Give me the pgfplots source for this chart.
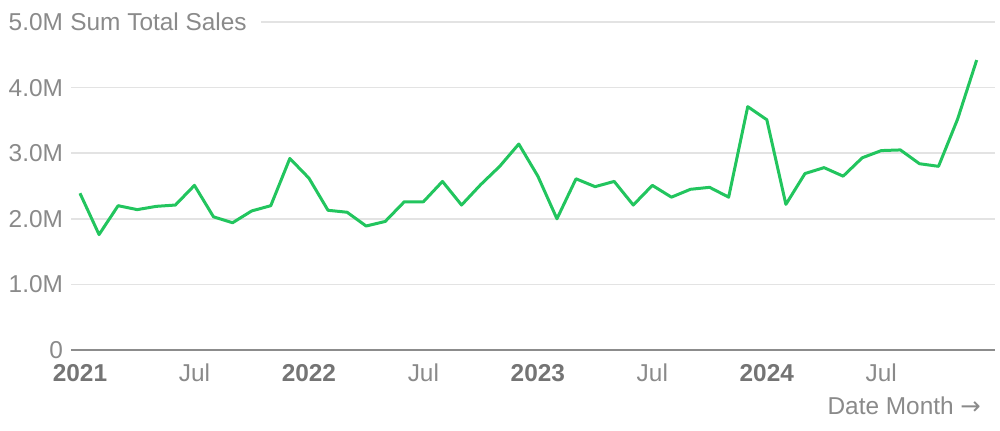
\documentclass[border=0pt]{standalone}
\usepackage{pgfplots}
\pgfplotsset{compat=1.18}
\usepackage{fontspec}
\setmainfont{Liberation Sans}
\newfontfamily\arrowfont{DejaVu Sans}
\definecolor{txtgray}{HTML}{8A8A8A}
\definecolor{yeargray}{HTML}{747474}
\definecolor{gridgray}{HTML}{E3E3E3}
\definecolor{axisgray}{HTML}{8C8C8C}
\definecolor{linegreen}{HTML}{22C55E}
\pgfplotstableread{
m v
0 2.39
1 1.76
2 2.20
3 2.14
4 2.19
5 2.21
6 2.51
7 2.03
8 1.94
9 2.12
10 2.20
11 2.92
12 2.62
13 2.13
14 2.10
15 1.89
16 1.96
17 2.26
18 2.26
19 2.57
20 2.21
21 2.52
22 2.80
23 3.14
24 2.65
25 2.00
26 2.61
27 2.49
28 2.57
29 2.21
30 2.51
31 2.33
32 2.45
33 2.48
34 2.33
35 3.71
36 3.51
37 2.22
38 2.69
39 2.78
40 2.65
41 2.93
42 3.04
43 3.05
44 2.84
45 2.80
46 3.52
47 4.42
}\sales
\begin{document}
\begin{tikzpicture}
\useasboundingbox (-35.5pt,-40pt) rectangle (464.5pt,175pt);
\begin{axis}[
  scale only axis,
  width=462pt, height=164pt,
  xmin=-0.47, xmax=47.96,
  ymin=0, ymax=5,
  axis line style={draw=none},
  major tick length=0pt,
  ymajorgrids,
  grid style={gridgray, line width=0.8pt},
  ytick={0,1,2,3,4,5},
  yticklabels={0,1.0M,2.0M,3.0M,4.0M,5.0M},
  xtick={0,6,12,18,24,30,36,42},
  xticklabels={\textbf{\color{yeargray}2021},Jul,\textbf{\color{yeargray}2022},Jul,\textbf{\color{yeargray}2023},Jul,\textbf{\color{yeargray}2024},Jul},
  tick label style={font=\fontsize{12.2}{14}\selectfont, text=txtgray},
  yticklabel style={anchor=east, xshift=-0.5pt},
  xticklabel style={anchor=base, yshift=-15.5pt},
  clip=false,
]
\draw[axisgray, line width=1pt] (rel axis cs:0,0) -- (rel axis cs:1,0);
\node[anchor=west, fill=white, inner xsep=0pt, inner ysep=2pt, text=txtgray,
      font=\fontsize{12.2}{14}\selectfont, xshift=-0.5pt]
  at (axis cs:-0.47,5) {Sum Total Sales\kern7pt};
\addplot[linegreen, line width=1.5pt, line join=round, mark=none] table[x=m, y=v] {\sales};
\node[anchor=base east, text=txtgray, font=\fontsize{12.2}{14}\selectfont,
      xshift=-3.5pt, yshift=-32pt] at (rel axis cs:1,0) {Date Month {\arrowfont →}};
\end{axis}
\end{tikzpicture}
\end{document}
